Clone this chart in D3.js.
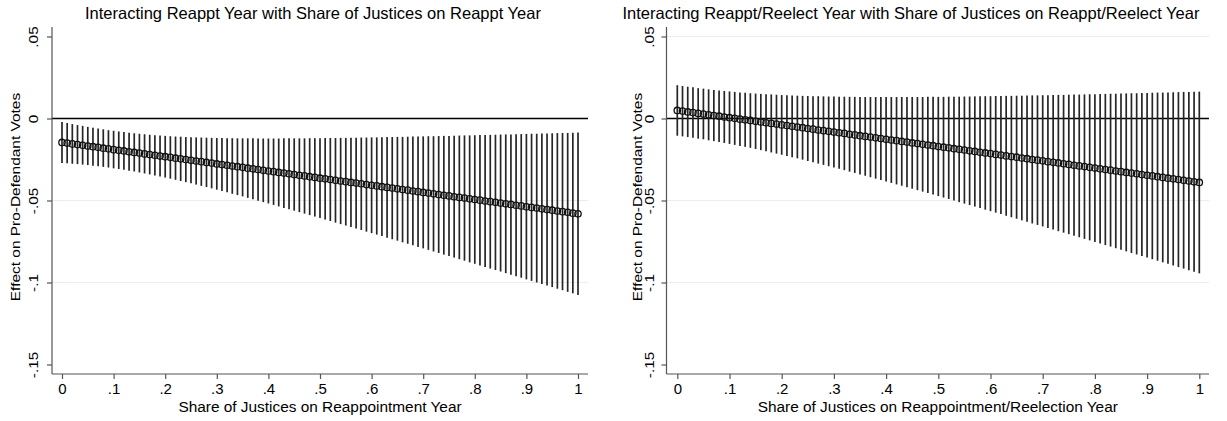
<!DOCTYPE html>
<html><head><meta charset="utf-8">
<script src="https://cdn.jsdelivr.net/npm/d3@7"></script>
<style>
html,body{margin:0;padding:0;background:#fff;}
svg{display:block;font-family:"Liberation Sans",Arial,Helvetica,sans-serif;}
</style></head><body>
<svg id="chart" width="1227" height="421"></svg>
<script>
// ---- data ----
const shareX = [0,.01,.02,.03,.04,.05,.06,.07,.08,.09,.1,.11,.12,.13,.14,.15,.16,.17,.18,.19,.2,.21,.22,.23,.24,.25,.26,.27,.28,.29,.3,.31,.32,.33,.34,.35,.36,.37,.38,.39,.4,.41,.42,.43,.44,.45,.46,.47,.48,.49,.5,.51,.52,.53,.54,.55,.56,.57,.58,.59,.6,.61,.62,.63,.64,.65,.66,.67,.68,.69,.7,.71,.72,.73,.74,.75,.76,.77,.78,.79,.8,.81,.82,.83,.84,.85,.86,.87,.88,.89,.9,.91,.92,.93,.94,.95,.96,.97,.98,.99,1];

const leftEst = [-.0146,-.0150,-.0155,-.0159,-.0163,-.0168,-.0172,-.0176,-.0181,-.0185,
-.0190,-.0194,-.0198,-.0203,-.0207,-.0211,-.0216,-.0220,-.0224,-.0229,
-.0233,-.0237,-.0242,-.0246,-.0250,-.0255,-.0259,-.0263,-.0268,-.0272,
-.0277,-.0281,-.0285,-.0290,-.0294,-.0298,-.0303,-.0307,-.0311,-.0316,
-.0320,-.0324,-.0329,-.0333,-.0337,-.0342,-.0346,-.0350,-.0355,-.0359,
-.0364,-.0368,-.0372,-.0377,-.0381,-.0385,-.0390,-.0394,-.0398,-.0403,
-.0407,-.0411,-.0416,-.0420,-.0424,-.0429,-.0433,-.0437,-.0442,-.0446,
-.0451,-.0455,-.0459,-.0464,-.0468,-.0472,-.0477,-.0481,-.0485,-.0490,
-.0494,-.0498,-.0503,-.0507,-.0511,-.0516,-.0520,-.0524,-.0529,-.0533,
-.0538,-.0542,-.0546,-.0551,-.0555,-.0559,-.0564,-.0568,-.0572,-.0577,
-.0581];
const leftLo = [-.0271,-.0273,-.0276,-.0278,-.0281,-.0284,-.0288,-.0291,-.0295,-.0299,
-.0304,-.0308,-.0313,-.0318,-.0323,-.0329,-.0335,-.0341,-.0347,-.0353,
-.0360,-.0367,-.0374,-.0381,-.0388,-.0395,-.0403,-.0411,-.0418,-.0426,
-.0434,-.0442,-.0450,-.0459,-.0467,-.0475,-.0484,-.0492,-.0501,-.0510,
-.0518,-.0527,-.0536,-.0545,-.0553,-.0562,-.0571,-.0580,-.0589,-.0598,
-.0607,-.0616,-.0625,-.0635,-.0644,-.0653,-.0662,-.0671,-.0680,-.0690,
-.0699,-.0708,-.0717,-.0727,-.0736,-.0745,-.0755,-.0764,-.0773,-.0783,
-.0792,-.0801,-.0811,-.0820,-.0830,-.0839,-.0848,-.0858,-.0867,-.0877,
-.0886,-.0896,-.0905,-.0915,-.0924,-.0933,-.0943,-.0952,-.0962,-.0971,
-.0981,-.0990,-.1000,-.1009,-.1019,-.1028,-.1038,-.1047,-.1057,-.1066,
-.1076];
const leftHi = [-.0021,-.0027,-.0034,-.0040,-.0045,-.0051,-.0056,-.0061,-.0066,-.0071,
-.0075,-.0079,-.0083,-.0087,-.0090,-.0093,-.0096,-.0099,-.0102,-.0104,
-.0106,-.0108,-.0110,-.0111,-.0113,-.0114,-.0115,-.0116,-.0117,-.0118,
-.0119,-.0119,-.0120,-.0120,-.0121,-.0121,-.0121,-.0121,-.0122,-.0122,
-.0122,-.0122,-.0122,-.0121,-.0121,-.0121,-.0121,-.0121,-.0120,-.0120,
-.0120,-.0119,-.0119,-.0119,-.0118,-.0118,-.0117,-.0117,-.0116,-.0116,
-.0115,-.0115,-.0114,-.0113,-.0113,-.0112,-.0112,-.0111,-.0110,-.0110,
-.0109,-.0108,-.0108,-.0107,-.0106,-.0106,-.0105,-.0104,-.0103,-.0103,
-.0102,-.0101,-.0100,-.0100,-.0099,-.0098,-.0097,-.0097,-.0096,-.0095,
-.0094,-.0093,-.0093,-.0092,-.0091,-.0090,-.0089,-.0088,-.0088,-.0087,
-.0086];

const rightEst = [.0049,.0045,.0040,.0036,.0031,.0027,.0023,.0018,.0014,.0009,
.0005,.0001,-.0004,-.0008,-.0012,-.0017,-.0021,-.0026,-.0030,-.0034,
-.0039,-.0043,-.0048,-.0052,-.0056,-.0061,-.0065,-.0070,-.0074,-.0078,
-.0083,-.0087,-.0091,-.0096,-.0100,-.0105,-.0109,-.0113,-.0118,-.0122,
-.0127,-.0131,-.0135,-.0140,-.0144,-.0149,-.0153,-.0157,-.0162,-.0166,
-.0171,-.0175,-.0179,-.0184,-.0188,-.0192,-.0197,-.0201,-.0206,-.0210,
-.0214,-.0219,-.0223,-.0228,-.0232,-.0236,-.0241,-.0245,-.0250,-.0254,
-.0258,-.0263,-.0267,-.0271,-.0276,-.0280,-.0285,-.0289,-.0293,-.0298,
-.0302,-.0307,-.0311,-.0315,-.0320,-.0324,-.0329,-.0333,-.0337,-.0342,
-.0346,-.0350,-.0355,-.0359,-.0364,-.0368,-.0372,-.0377,-.0381,-.0386,
-.0390];
const rightLo = [-.0105,-.0109,-.0113,-.0118,-.0123,-.0127,-.0133,-.0138,-.0143,-.0149,
-.0155,-.0161,-.0167,-.0173,-.0179,-.0186,-.0193,-.0200,-.0207,-.0214,
-.0221,-.0228,-.0236,-.0243,-.0251,-.0259,-.0267,-.0275,-.0283,-.0291,
-.0299,-.0307,-.0315,-.0324,-.0332,-.0341,-.0349,-.0358,-.0367,-.0375,
-.0384,-.0393,-.0402,-.0410,-.0419,-.0428,-.0437,-.0446,-.0455,-.0464,
-.0473,-.0482,-.0491,-.0500,-.0510,-.0519,-.0528,-.0537,-.0546,-.0556,
-.0565,-.0574,-.0583,-.0593,-.0602,-.0611,-.0621,-.0630,-.0640,-.0649,
-.0658,-.0668,-.0677,-.0687,-.0696,-.0705,-.0715,-.0724,-.0734,-.0743,
-.0753,-.0762,-.0772,-.0781,-.0791,-.0800,-.0810,-.0820,-.0829,-.0839,
-.0848,-.0858,-.0867,-.0877,-.0886,-.0896,-.0906,-.0915,-.0925,-.0934,
-.0944];
const rightHi = [.0203,.0198,.0194,.0190,.0185,.0182,.0178,.0174,.0171,.0168,
.0165,.0162,.0159,.0157,.0154,.0152,.0150,.0148,.0147,.0145,
.0143,.0142,.0141,.0139,.0138,.0137,.0136,.0136,.0135,.0134,
.0134,.0133,.0133,.0132,.0132,.0131,.0131,.0131,.0131,.0131,
.0131,.0131,.0131,.0131,.0131,.0131,.0131,.0131,.0132,.0132,
.0132,.0132,.0133,.0133,.0133,.0134,.0134,.0135,.0135,.0136,
.0136,.0137,.0137,.0138,.0138,.0139,.0139,.0140,.0141,.0141,
.0142,.0142,.0143,.0144,.0144,.0145,.0146,.0146,.0147,.0148,
.0148,.0149,.0150,.0151,.0151,.0152,.0153,.0154,.0154,.0155,
.0156,.0157,.0158,.0158,.0159,.0160,.0161,.0162,.0162,.0163,
.0164];

const xTickValues = [0,.1,.2,.3,.4,.5,.6,.7,.8,.9,1];
const xTickLabels = ["0",".1",".2",".3",".4",".5",".6",".7",".8",".9","1"];
const yTickValues = [.05,0,-.05,-.1,-.15];
const yTickLabels = [".05","0","-.05","-.1","-.15"];
const panelTitles = ["Interacting Reappt Year with Share of Justices on Reappt Year",
                     "Interacting Reappt/Reelect Year with Share of Justices on Reappt/Reelect Year"];
const xTitles = ["Share of Justices on Reappointment Year",
                 "Share of Justices on Reappointment/Reelection Year"];
const yTitle = "Effect on Pro-Defendant Votes";
const leftGrid = [-.05,-.1];
const rightGrid = [.05,-.05,-.1];

// ---- layout ----
const svg = d3.select("#chart");
const plotTop = 27, plotBottom = 374;
const y = d3.scaleLinear().domain([-.15,.05]).range([364.5,36.5]);

const panels = [
  {title:panelTitles[0], xTitle:xTitles[0], est:leftEst, lo:leftLo, hi:leftHi, grid:leftGrid,
   left:52, right:588, r0:62, r1:578, titleX:85, yTitleX:19.5, yLabelX:37.5},
  {title:panelTitles[1], xTitle:xTitles[1], est:rightEst, lo:rightLo, hi:rightHi, grid:rightGrid,
   left:666.5, right:1209, r0:677.3, r1:1199.3, titleX:622.5, yTitleX:641.5, yLabelX:653.5}
];

const axisColor = "#555";

panels.forEach(p => {
  const x = d3.scaleLinear().domain([0,1]).range([p.r0, p.r1]);
  const g = svg.append("g");

  // gridlines
  g.selectAll("line.grid").data(p.grid).join("line")
    .attr("x1", p.left).attr("x2", p.right)
    .attr("y1", d => y(d)).attr("y2", d => y(d))
    .attr("stroke", "#e6eef1").attr("stroke-width", 1);

  // zero reference line
  g.append("line")
    .attr("x1", p.left).attr("x2", p.right)
    .attr("y1", y(0)).attr("y2", y(0))
    .attr("stroke", "#000").attr("stroke-width", 1.3);

  // confidence spikes
  g.selectAll("line.spike").data(shareX).join("line")
    .attr("x1", d => x(d)).attr("x2", d => x(d))
    .attr("y1", (d,i) => y(p.lo[i])).attr("y2", (d,i) => y(p.hi[i]))
    .attr("stroke", "#262626").attr("stroke-width", 1.7);

  // point estimates (hollow circles)
  g.selectAll("circle.pt").data(shareX).join("circle")
    .attr("cx", d => x(d)).attr("cy", (d,i) => y(p.est[i])).attr("r", 3.2)
    .attr("fill", "none").attr("stroke", "#111").attr("stroke-width", 1.3);

  // y axis
  const ya = g.append("g").attr("transform", `translate(${p.left},0)`)
    .call(d3.axisLeft(y).tickValues(yTickValues).tickFormat((d,i) => yTickLabels[i]).tickSize(5).tickSizeOuter(0));
  ya.select(".domain").remove();
  ya.selectAll(".tick line").attr("stroke", axisColor).attr("stroke-width", 1.2);
  ya.selectAll(".tick text")
    .attr("x", null).attr("dy", null)
    .attr("font-size", 15).attr("fill", "#000")
    .attr("text-anchor", "middle")
    .attr("transform", `translate(${p.yLabelX - p.left},0) rotate(-90) scale(1.02,0.82)`);
  g.append("line").attr("x1", p.left).attr("x2", p.left).attr("y1", plotTop).attr("y2", plotBottom)
    .attr("stroke", axisColor).attr("stroke-width", 1.2);

  // x axis
  const xa = g.append("g").attr("transform", `translate(0,${plotBottom})`)
    .call(d3.axisBottom(x).tickValues(xTickValues).tickFormat((d,i) => xTickLabels[i]).tickSize(5).tickSizeOuter(0));
  xa.select(".domain").remove();
  xa.selectAll(".tick line").attr("stroke", axisColor).attr("stroke-width", 1.2);
  xa.selectAll(".tick text").attr("y", 20).attr("dy", null).attr("font-size", 15).attr("fill", "#000");
  g.append("line").attr("x1", p.left).attr("x2", p.right).attr("y1", plotBottom).attr("y2", plotBottom)
    .attr("stroke", axisColor).attr("stroke-width", 1.2);

  // titles
  g.append("text").attr("x", p.titleX).attr("y", 19).attr("font-size", 16.5)
    .attr("fill", "#000").text(p.title);
  g.append("text").attr("x", (p.left + p.right) / 2).attr("y", 411.5).attr("font-size", 15.4)
    .attr("text-anchor", "middle").attr("fill", "#000").text(p.xTitle);
  g.append("text").attr("text-anchor", "middle").attr("font-size", 15).attr("fill", "#000")
    .attr("transform", `translate(${p.yTitleX},197) rotate(-90) scale(1.03,0.87)`)
    .text(yTitle);
});
</script>
</body></html>
